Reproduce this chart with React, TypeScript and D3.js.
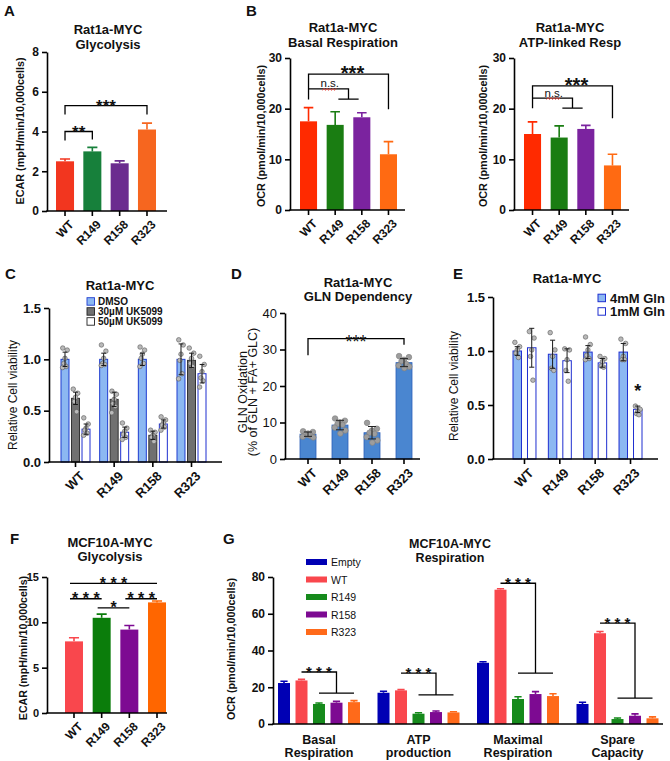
import { useEffect, useRef } from 'react';
import * as d3 from 'd3';

const FONT = '"Liberation Sans", Arial, Helvetica, sans-serif';
const NARROW = '"Liberation Sans Narrow", "Liberation Sans", Arial, sans-serif';

const cats = ['WT', 'R149', 'R158', 'R323'];

// A - Rat1a-MYC glycolysis (ECAR)
const aMean = [2.5, 3.0, 2.4, 4.1];
const aErr = [0.12, 0.2, 0.12, 0.32];
const aColors = ['#f2361f', '#17803b', '#6b2c8f', '#f6661f'];
const aBrackets = [
  { from: 'WT', to: 'R323', at: 5.3, legs: [4.85, 4.85], label: '***' },
  { from: 'WT', to: 'R149', at: 4.0, legs: [3.55, 3.6], label: '**' },
];

// B - basal and ATP-linked respiration (OCR)
const bBasalMean = [17.5, 16.8, 18.3, 11.0];
const bBasalErr = [2.7, 2.6, 0.9, 2.5];
const bAtpMean = [15.0, 14.3, 16.0, 8.8];
const bAtpErr = [2.4, 2.3, 0.7, 2.2];
const bColors = ['#ff2a00', '#1a7d12', '#7b239f', '#ff6a12'];
const bBasalStats = { at: 26.8, legs: [21.8, 19.9], nsAt: 23.9, nsDrop: 21.9 };
const bAtpStats = { at: 24.5, legs: [20.1, 18.1], nsAt: 22.1, nsDrop: 20.1 };

// C - UK5099 viability
const cSeries = ['DMSO', '30µM UK5099', '50µM UK5099'];
const cMean = [
  [1.0, 1.0, 1.0, 1.0],
  [0.62, 0.61, 0.26, 0.99],
  [0.32, 0.29, 0.37, 0.86],
];
const cSd = [
  [0.07, 0.06, 0.06, 0.15],
  [0.06, 0.07, 0.04, 0.07],
  [0.05, 0.05, 0.04, 0.09],
];
const cPoints = [
  [[1.11, 1.09, 1.01, 0.96, 0.93, 0.92], [1.14, 1.08, 1.01, 0.96, 0.95, 0.94], [1.12, 1.09, 1.05, 1.01, 0.96, 0.93], [1.19, 1.14, 1.05, 0.99, 0.86, 0.81]],
  [[0.71, 0.67, 0.63, 0.59, 0.49], [0.69, 0.66, 0.61, 0.57, 0.54, 0.48], [0.31, 0.29, 0.26, 0.24, 0.2], [1.11, 1.06, 1.01, 0.96, 0.93]],
  [[0.43, 0.37, 0.33, 0.31, 0.28, 0.26], [0.38, 0.33, 0.3, 0.27, 0.24, 0.22], [0.44, 0.41, 0.38, 0.36, 0.34, 0.31], [1.03, 0.95, 0.88, 0.82, 0.79, 0.73]],
];

// D - GLN dependency
const dMean = [6.8, 9.3, 7.2, 26.4];
const dSd = [0.6, 1.3, 1.7, 1.1];
const dPoints = [
  [7.6, 7.4, 7.0, 6.7, 6.4, 6.1, 5.9, 6.6],
  [11.1, 10.5, 10.0, 9.6, 9.4, 8.6, 7.8, 7.0],
  [9.9, 8.3, 7.8, 7.2, 6.9, 6.0, 5.1, 4.5],
  [28.2, 27.9, 27.2, 26.8, 26.0, 25.6, 25.3, 24.9],
];
const dBracket = { at: 33, legs: [28.4, 31.3] };

// E - glutamine viability
const eSeries = ['4mM Gln', '1mM Gln'];
const eMean = [
  [1.0, 0.97, 0.99, 0.99],
  [1.03, 0.91, 0.89, 0.46],
];
const eSd = [
  [0.04, 0.13, 0.06, 0.08],
  [0.18, 0.11, 0.04, 0.03],
];
const ePoints = [
  [[1.08, 1.04, 1.01, 0.98, 0.94], [1.17, 1.01, 0.95, 0.84, 0.82], [1.13, 1.06, 1.01, 0.96, 0.93, 0.92], [1.11, 1.07, 0.95, 0.92, 0.92]],
  [[1.18, 1.12, 1.01, 0.95, 0.73], [1.02, 1.01, 0.92, 0.82, 0.72], [0.95, 0.93, 0.9, 0.86, 0.85], [0.49, 0.46, 0.44, 0.42, 0.41]],
];

// F - MCF10A-MYC glycolysis
const fMean = [7.9, 10.5, 9.2, 12.2];
const fErr = [0.4, 0.4, 0.45, 0.15];
const fColors = ['#f9474d', '#0b7d0b', '#7d0a92', '#ff6600'];
const fBrackets = [
  { from: 'WT', to: 'R323', at: 14.3, label: '* * *' },
  { from: 'WT', to: 'R149', at: 12.6, label: '* * *' },
  { from: 'R149', to: 'R158', at: 11.6, label: '*' },
  { from: 'R158', to: 'R323', at: 12.6, label: '* * *' },
];

// G - MCF10A-MYC respiration
const gGroups = ['Basal Respiration', 'ATP production', 'Maximal Respiration', 'Spare Capacity'];
const gSeries = ['Empty', 'WT', 'R149', 'R158', 'R323'];
const gColors = ['#0000b4', '#f9474d', '#168a1c', '#7d0a92', '#ff6a1a'];
const gMean = [
  [22.3, 17.0, 33.3, 10.9],
  [23.7, 18.3, 73.1, 49.4],
  [10.9, 5.6, 13.6, 2.7],
  [11.6, 6.5, 16.3, 4.5],
  [11.9, 6.3, 15.2, 3.1],
];
const gErr = [
  [1.0, 0.8, 0.6, 0.9],
  [0.6, 0.4, 0.5, 0.9],
  [0.5, 0.5, 1.2, 0.6],
  [0.7, 0.6, 1.3, 1.0],
  [0.8, 0.4, 1.3, 0.8],
];
const gBrackets = [
  { top: 28.3, drop: 16.8 },
  { top: 27.7, drop: 15.8 },
  { top: 76.6, drop: 27.7 },
  { top: 54.9, drop: 14.1 },
];

const jitter = [-0.28, 0.28, 0, -0.14, 0.14, -0.3, 0.3, 0.02];

type G = d3.Selection<SVGGElement, unknown, null, undefined>;

function text(g: G, x: number, y: number, s: string, size: number, weight = 'bold', anchor = 'middle', family = FONT) {
  return g.append('text').attr('x', x).attr('y', y).text(s)
    .attr('font-size', size).attr('font-weight', weight).attr('font-family', family)
    .attr('text-anchor', anchor).attr('fill', '#111');
}

function yLabel(g: G, x: number, y: number, s: string, size: number, weight = 'bold', family = FONT) {
  text(g, 0, 0, s, size, weight, 'middle', family).attr('transform', `translate(${x},${y}) rotate(-90)`);
}

function yAxis(g: G, y: d3.ScaleLinear<number, number>, left: number, ticks: number[], fmt: (d: any) => string, size: number, weight: string, family = FONT) {
  const ax = g.append('g').attr('transform', `translate(${left},0)`)
    .call(d3.axisLeft(y).tickValues(ticks).tickSize(5).tickSizeOuter(0).tickPadding(3).tickFormat(fmt));
  ax.select('.domain').attr('stroke-width', 1.6);
  ax.selectAll('.tick line').attr('stroke-width', 1.6);
  ax.selectAll('.tick text').attr('font-size', size).attr('font-weight', weight).attr('font-family', family).attr('fill', '#111');
}

function xAxis(g: G, x: d3.ScaleBand<string>, left: number, right: number, bottom: number, size: number, family = FONT) {
  const ax = g.append('g').attr('transform', `translate(0,${bottom})`)
    .call(d3.axisBottom(x).tickSize(5).tickSizeOuter(0));
  ax.select('.domain').remove();
  ax.append('line').attr('x1', left - 0.8).attr('x2', right).attr('stroke', '#000').attr('stroke-width', 1.6);
  ax.selectAll('.tick line').attr('stroke-width', 1.6);
  ax.selectAll('.tick text').attr('x', 0).attr('y', 0).attr('dy', '0.75em')
    .attr('transform', 'translate(3,8) rotate(-45)').attr('text-anchor', 'end')
    .attr('font-size', size).attr('font-weight', 'bold').attr('font-family', family).attr('fill', '#111');
}

function line(g: G, d: string, w = 1.3, color = '#000') {
  g.append('path').attr('d', d).attr('fill', 'none').attr('stroke', color).attr('stroke-width', w);
}

// simple coloured bar chart with mean + SD caps above
function simpleBars(g: G, cfg: any, mean: number[], err: number[], colors: string[]) {
  const y = d3.scaleLinear().domain([0, cfg.yMax]).range([cfg.bottom, cfg.top]);
  const x = d3.scaleBand<string>().domain(cats).range(cfg.band).paddingInner(cfg.pi).paddingOuter(0);
  const bw = x.bandwidth();
  cats.forEach((c, i) => {
    const cx = x(c)! + bw / 2;
    const top = y(mean[i] + err[i]);
    line(g, `M${cx},${y(mean[i])}V${top}M${cx - bw * 0.28},${top}H${cx + bw * 0.28}`, 1.6, colors[i]);
    g.append('rect').attr('x', x(c)!).attr('y', y(mean[i])).attr('width', bw)
      .attr('height', y(0) - y(mean[i])).attr('fill', colors[i]);
  });
  yAxis(g, y, cfg.left, cfg.ticks, d3.format('d'), cfg.tickSize || 12, 'bold');
  xAxis(g, x, cfg.left, cfg.right, cfg.bottom, 12);
  return { x, y, cx: (c: string) => x(c)! + bw / 2 };
}

function squiggle(g: G, x0: number, x1: number, yy: number) {
  const pts: [number, number][] = d3.range(x0, x1 + 0.1, 1.5).map((v, i) => [v, yy + (i % 2 ? -1 : 1)]);
  g.append('path').attr('d', d3.line()(pts)!).attr('fill', 'none').attr('stroke', '#e8463c').attr('stroke-width', 0.9);
}

function bPanel(g: G, cfg: any, mean: number[], err: number[], st: any, title2: string, titleX: number, labelX: number) {
  const { y, cx } = simpleBars(g, cfg, mean, err, bColors);
  text(g, titleX, 32, 'Rat1a-MYC', 13);
  text(g, titleX, 47, title2, 13);
  yLabel(g, labelX, 136, 'OCR (pmol/min/10,000cells)', 10.8);
  const xw = cx('WT');
  const xr = cx('R323');
  line(g, `M${xw},${y(st.legs[0])}V${y(st.at)}H${xr}V${y(st.legs[1])}`);
  text(g, (xw + xr) / 2 + 4, y(st.at) - 1 + 0.36 * 20, '***', 20);
  const mid = (cx('R149') + cx('R158')) / 2;
  const half = (cx('R158') - cx('R149')) * 0.38;
  line(g, `M${xw},${y(st.nsAt)}H${mid}V${y(st.nsDrop)}M${mid - half},${y(st.nsDrop)}H${mid + half}`);
  text(g, xw + 12, y(st.nsAt) - 1.5, 'n.s.', 11.5, 'normal', 'start');
  squiggle(g, xw + 14, xw + 28, y(st.nsAt) + 0.5);
}

function groupedPanel(g: G, cfg: any, series: string[], mean: number[][], sd: number[][], points: number[][][], styles: any[]) {
  const y = d3.scaleLinear().domain([0, cfg.yMax]).range([cfg.bottom, cfg.top]);
  const x0 = d3.scaleBand<string>().domain(cats).range(cfg.band).paddingInner(cfg.pi).paddingOuter(0);
  const x1 = d3.scaleBand<string>().domain(series).range([0, x0.bandwidth()]).paddingInner(cfg.pi2).paddingOuter(0);
  const bw = x1.bandwidth();
  series.forEach((s, si) => {
    cats.forEach((c, ci) => {
      const bx = x0(c)! + x1(s)!;
      const cx = bx + bw / 2;
      const v = mean[si][ci];
      g.append('rect').attr('x', bx).attr('y', y(v)).attr('width', bw).attr('height', y(0) - y(v))
        .attr('fill', styles[si].fill).attr('stroke', styles[si].stroke).attr('stroke-width', 1);
      points[si][ci].forEach((p, pi) => {
        g.append('circle').attr('cx', cx + jitter[pi % jitter.length] * bw).attr('cy', y(p)).attr('r', 2.3)
          .attr('fill', '#b9b9b9').attr('stroke', '#5a5a5a').attr('stroke-width', 0.6);
      });
      const hi = y(v + sd[si][ci]);
      const lo = y(v - sd[si][ci]);
      line(g, `M${cx},${lo}V${hi}M${cx - bw * 0.3},${hi}H${cx + bw * 0.3}M${cx - bw * 0.3},${lo}H${cx + bw * 0.3}`, 1, '#1a1a1a');
    });
  });
  yAxis(g, y, cfg.left, [0, 0.5, 1, 1.5], d3.format('.1f'), 13, 'bold', NARROW);
  xAxis(g, x0, cfg.left, cfg.right, cfg.bottom, 13, NARROW);
  return { y, x0, x1 };
}

function draw(svg: d3.Selection<SVGSVGElement, unknown, null, undefined>) {
  const root = svg.append('g') as unknown as G;

  // panel letters
  [['A', 4, 16], ['B', 246, 16], ['C', 5, 279], ['D', 231, 279], ['E', 453, 279], ['F', 10, 544], ['G', 223, 544]]
    .forEach(([l, x, yy]) => text(root, x as number, yy as number, l as string, 15, 'bold', 'start'));

  // A
  const ga = root.append('g');
  const a = simpleBars(ga, { left: 47, right: 167, top: 52, bottom: 211, yMax: 8, ticks: [0, 2, 4, 6, 8], band: [56, 156], pi: 0.34 }, aMean, aErr, aColors);
  text(ga, 108, 34, 'Rat1a-MYC', 13);
  text(ga, 108, 49, 'Glycolysis', 13);
  yLabel(ga, 24, 131, 'ECAR (mpH/min/10,000cells)', 10.8);
  aBrackets.forEach((b) => {
    const x1 = a.cx(b.from);
    const x2 = a.cx(b.to);
    line(ga, `M${x1},${a.y(b.legs[0])}V${a.y(b.at)}H${x2}V${a.y(b.legs[1])}`);
    text(ga, (x1 + x2) / 2, a.y(b.at) + 0.36 * 17, b.label, 17);
  });

  // B
  const gb1 = root.append('g');
  bPanel(gb1, { left: 290, right: 405, top: 58, bottom: 210, yMax: 30, ticks: [0, 10, 20, 30], band: [300, 397], pi: 0.36 },
    bBasalMean, bBasalErr, bBasalStats, 'Basal Respiration', 343, 265);
  const gb2 = root.append('g');
  bPanel(gb2, { left: 514, right: 629, top: 58, bottom: 210, yMax: 30, ticks: [0, 10, 20, 30], band: [524, 621], pi: 0.36 },
    bAtpMean, bAtpErr, bAtpStats, 'ATP-linked Resp', 570, 487);

  // C
  const gc = root.append('g');
  const cStyles = [
    { fill: '#8cb8f2', stroke: '#1f3dd0' },
    { fill: '#707070', stroke: '#333333' },
    { fill: '#ffffff', stroke: '#1f2fd0' },
  ];
  groupedPanel(gc, { left: 49, right: 222, top: 308, bottom: 462, yMax: 1.5, band: [61, 206], pi: 0.25, pi2: 0.24 },
    cSeries, cMean, cSd, cPoints, cStyles);
  text(gc, 120, 290, 'Rat1a-MYC', 13);
  yLabel(gc, 17, 395, 'Relative Cell viability', 12, 'normal', NARROW);
  cSeries.forEach((s, i) => {
    const yy = 301.5 + i * 10;
    gc.append('rect').attr('x', 87).attr('y', yy - 3.8).attr('width', 7.5).attr('height', 7.5)
      .attr('fill', cStyles[i].fill).attr('stroke', i === 0 ? '#1f3dd0' : '#222').attr('stroke-width', 0.9);
    text(gc, 98, yy + 3.8, s, 10, 'bold', 'start', NARROW);
  });

  // D
  const gd = root.append('g');
  const dy = d3.scaleLinear().domain([0, 40]).range([459, 313]);
  const dx = d3.scaleBand<string>().domain(cats).range([300, 412]).paddingInner(0.5).paddingOuter(0);
  const dbw = dx.bandwidth();
  cats.forEach((c, i) => {
    const cx = dx(c)! + dbw / 2;
    gd.append('rect').attr('x', dx(c)!).attr('y', dy(dMean[i])).attr('width', dbw).attr('height', dy(0) - dy(dMean[i]))
      .attr('fill', '#4a86d0').attr('stroke', '#2c5fb8').attr('stroke-width', 0.8);
    dPoints[i].forEach((p, pi) => {
      gd.append('circle').attr('cx', cx + jitter[pi % jitter.length] * dbw * 1.1).attr('cy', dy(p)).attr('r', 2.8)
        .attr('fill', '#9d9d9d').attr('stroke', '#7d7d7d').attr('stroke-width', 0.6);
    });
    const hi = dy(dMean[i] + dSd[i]);
    const lo = dy(dMean[i] - dSd[i]);
    line(gd, `M${cx},${lo}V${hi}M${cx - 4},${hi}H${cx + 4}M${cx - 4},${lo}H${cx + 4}`, 1, '#222');
  });
  yAxis(gd, dy, 285, [0, 10, 20, 30, 40], d3.format('d'), 13, 'normal', NARROW);
  xAxis(gd, dx, 285, 420, 459, 13, NARROW);
  text(gd, 358, 287, 'Rat1a-MYC', 13);
  text(gd, 358, 301, 'GLN Dependency', 13);
  text(gd, 0, 0, 'GLN Oxidation', 12.5, 'normal', 'middle', NARROW).attr('transform', 'translate(247,392) rotate(-90)');
  text(gd, 0, 0, '(% of GLN + FA+ GLC)', 12.5, 'normal', 'middle', NARROW).attr('transform', 'translate(257,392) rotate(-90)');
  {
    const x1 = dx('WT')! + dbw / 2;
    const x2 = dx('R323')! + dbw / 2;
    line(gd, `M${x1},${dy(dBracket.legs[0])}V${dy(dBracket.at)}H${x2}V${dy(dBracket.legs[1])}`);
    text(gd, (x1 + x2) / 2, dy(dBracket.at) + 0.36 * 18 + 3, '***', 18, 'normal');
  }

  // E
  const ge = root.append('g');
  const eStyles = [
    { fill: '#8cb8f2', stroke: '#1f2fd0' },
    { fill: '#ffffff', stroke: '#1f2fd0' },
  ];
  const e = groupedPanel(ge, { left: 493, right: 658, top: 297, bottom: 459, yMax: 1.5, band: [513, 642], pi: 0.35, pi2: 0.414 },
    eSeries, eMean, eSd, ePoints, eStyles);
  text(ge, 567, 283, 'Rat1a-MYC', 13);
  yLabel(ge, 458, 386, 'Relative Cell viability', 12, 'normal', NARROW);
  eSeries.forEach((s, i) => {
    const yy = 298 + i * 13.5;
    ge.append('rect').attr('x', 598).attr('y', yy - 3.8).attr('width', 7.5).attr('height', 7.5)
      .attr('fill', eStyles[i].fill).attr('stroke', '#1f2fd0').attr('stroke-width', 1);
    text(ge, 610, yy + 4.5, s, 13, 'bold', 'start', NARROW);
  });
  {
    const cx = e.x0('R323')! + e.x1('1mM Gln')! + e.x1.bandwidth() / 2;
    text(ge, cx, e.y(eMean[1][3] + eSd[1][3]) - 16 + 0.39 * 18, '*', 18);
  }

  // F
  const gf = root.append('g');
  const f = simpleBars(gf, { left: 47, right: 167, top: 577, bottom: 713, yMax: 15, ticks: [0, 5, 10, 15], band: [65, 166], pi: 0.35, tickSize: 11 }, fMean, fErr, fColors);
  text(gf, 110, 547, 'MCF10A-MYC', 13);
  text(gf, 110, 561, 'Glycolysis', 13);
  yLabel(gf, 27, 648, 'ECAR (mpH/min/10,000cells)', 10.6);
  fBrackets.forEach((b) => {
    const x1 = f.cx(b.from) - 4;
    const x2 = f.cx(b.to);
    line(gf, `M${x1},${f.y(b.at)}H${x2}`);
    text(gf, (x1 + x2) / 2, f.y(b.at) + 0.39 * 16 - 1, b.label, 16);
  });

  // G
  const gg = root.append('g');
  const gy = d3.scaleLinear().domain([0, 80]).range([724, 577]);
  const gx0 = d3.scaleBand<string>().domain(gGroups).range([278, 658.5]).paddingInner(0.176).paddingOuter(0);
  const gx1 = d3.scaleBand<string>().domain(gSeries).range([0, gx0.bandwidth()]).paddingInner(0.314).paddingOuter(0);
  const gbw = gx1.bandwidth();
  const gcx = (grp: string, s: string) => gx0(grp)! + gx1(s)! + gbw / 2;
  gSeries.forEach((s, si) => {
    gGroups.forEach((grp, gi) => {
      const v = gMean[si][gi];
      const cx = gcx(grp, s);
      const top = gy(v + gErr[si][gi]);
      line(gg, `M${cx},${gy(v)}V${top}M${cx - gbw * 0.3},${top}H${cx + gbw * 0.3}`, 1.6, gColors[si]);
      gg.append('rect').attr('x', gx0(grp)! + gx1(s)!).attr('y', gy(v)).attr('width', gbw)
        .attr('height', gy(0) - gy(v)).attr('fill', gColors[si]);
    });
  });
  yAxis(gg, gy, 273, [0, 20, 40, 60, 80], d3.format('d'), 12, 'bold');
  line(gg, `M272.2,724H663`, 1.6);
  gGroups.forEach((grp) => {
    const cx = gx0(grp)! + gx0.bandwidth() / 2;
    const [w1, w2] = grp.split(' ');
    text(gg, cx, 744, w1, 12.5);
    text(gg, cx, 757, w2, 12.5);
  });
  gBrackets.forEach((b, gi) => {
    const grp = gGroups[gi];
    const xa = gcx(grp, 'WT');
    const xb = gcx(grp, 'R158');
    line(gg, `M${xa},${gy(b.top)}H${xb}V${gy(b.drop)}M${gcx(grp, 'R149')},${gy(b.drop)}H${gcx(grp, 'R323')}`);
    text(gg, (xa + xb) / 2, gy(b.top) + 0.39 * 15 - 1, '* * *', 15);
  });
  text(gg, 450, 548, 'MCF10A-MYC', 12.5);
  text(gg, 450, 562, 'Respiration', 12.5);
  yLabel(gg, 235, 649, 'OCR (pmol/min/10,000cells)', 10.8);
  gSeries.forEach((s, i) => {
    const yy = 562 + i * 17.5;
    gg.append('rect').attr('x', 306).attr('y', yy - 3).attr('width', 21).attr('height', 6).attr('fill', gColors[i]);
    text(gg, 331, yy + 4, s, 10.5, 'normal', 'start');
  });
}

export default function App() {
  const ref = useRef<SVGSVGElement>(null);

  useEffect(() => {
    if (!ref.current) return;
    const svg = d3.select(ref.current);
    svg.selectAll('*').remove();
    draw(svg);
  }, []);

  return (
    <svg ref={ref} width={670} height={761}
      style={{ position: 'absolute', left: 0, top: 0, background: '#fff' }} />
  );
}
